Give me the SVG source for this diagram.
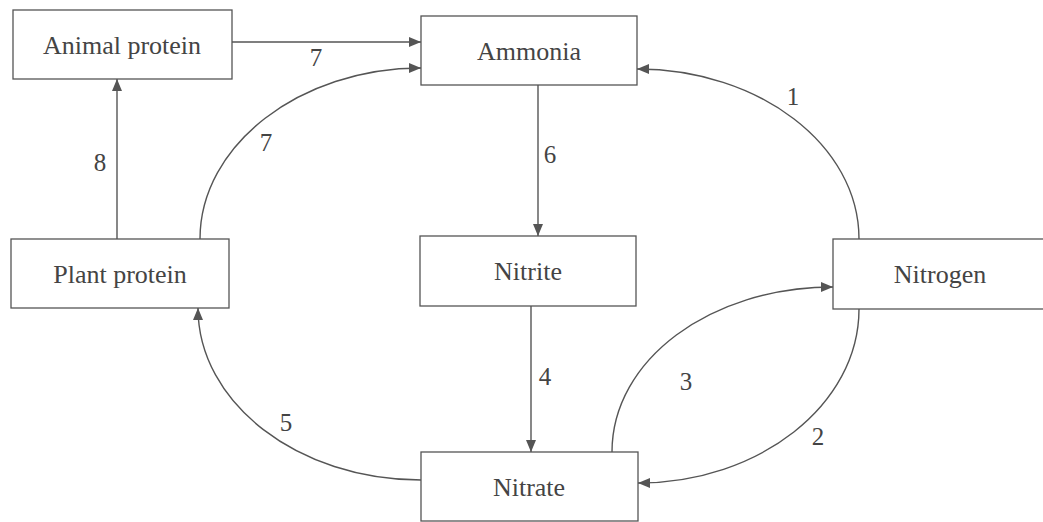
<svg xmlns="http://www.w3.org/2000/svg" width="1043" height="522" viewBox="0 0 1043 522">
<defs>
<marker id="ah" viewBox="0 0 12 10" refX="12" refY="5" markerWidth="12" markerHeight="10" markerUnits="userSpaceOnUse" orient="auto">
<path d="M0,0 L12,5 L0,10 Z" fill="#555"/>
</marker>
<style>
.box{fill:#fff;stroke:#555;stroke-width:1.3}
.c{fill:none;stroke:#555;stroke-width:1.4;marker-end:url(#ah)}
</style>
</defs>
<rect width="1043" height="522" fill="#fff"/>
<g id="connectors">
<path class="c" d="M232,42 L421,42"/>
<path class="c" d="M200,239 C200,145 300,68 421,68"/>
<path class="c" d="M117,239 L117,79"/>
<path class="c" d="M538,85 L538,236"/>
<path class="c" d="M531,306 L531,452"/>
<path class="c" d="M859,239 C859,145 759,69 637,69"/>
<path class="c" d="M859,309 C859,405 759,483 638,483"/>
<path class="c" d="M612,452 C612,360 710,287 833,287"/>
<path class="c" d="M421,480 C298,480 198,403 198,308"/>
<text x="316" y="66" style="font-family:'Liberation Serif',serif;font-size:25px;fill:#444;text-anchor:middle">7</text>
<text x="266" y="151" style="font-family:'Liberation Serif',serif;font-size:25px;fill:#444;text-anchor:middle">7</text>
<text x="100" y="171" style="font-family:'Liberation Serif',serif;font-size:25px;fill:#444;text-anchor:middle">8</text>
<text x="550" y="163" style="font-family:'Liberation Serif',serif;font-size:25px;fill:#444;text-anchor:middle">6</text>
<text x="545" y="385" style="font-family:'Liberation Serif',serif;font-size:25px;fill:#444;text-anchor:middle">4</text>
<text x="793" y="105" style="font-family:'Liberation Serif',serif;font-size:25px;fill:#444;text-anchor:middle">1</text>
<text x="686" y="390" style="font-family:'Liberation Serif',serif;font-size:25px;fill:#444;text-anchor:middle">3</text>
<text x="286" y="431" style="font-family:'Liberation Serif',serif;font-size:25px;fill:#444;text-anchor:middle">5</text>
<text x="818" y="445" style="font-family:'Liberation Serif',serif;font-size:25px;fill:#444;text-anchor:middle">2</text>
</g>
<g id="animal-protein">
<rect class="box" x="13" y="10" width="219" height="69"/>
<text x="122" y="54" style="font-family:'Liberation Serif',serif;font-size:26px;fill:#444;text-anchor:middle">Animal protein</text>
</g>
<g id="ammonia">
<rect class="box" x="421" y="16" width="216" height="69"/>
<text x="529" y="60" style="font-family:'Liberation Serif',serif;font-size:26px;fill:#444;text-anchor:middle">Ammonia</text>
</g>
<g id="plant-protein">
<rect class="box" x="11" y="239" width="218" height="69"/>
<text x="120" y="283" style="font-family:'Liberation Serif',serif;font-size:26px;fill:#444;text-anchor:middle">Plant protein</text>
</g>
<g id="nitrite">
<rect class="box" x="420" y="236" width="216" height="70"/>
<text x="528" y="280" style="font-family:'Liberation Serif',serif;font-size:26px;fill:#444;text-anchor:middle">Nitrite</text>
</g>
<g id="nitrogen">
<rect class="box" x="833" y="239" width="215" height="70"/>
<text x="940" y="283" style="font-family:'Liberation Serif',serif;font-size:26px;fill:#444;text-anchor:middle">Nitrogen</text>
</g>
<g id="nitrate">
<rect class="box" x="421" y="452" width="217" height="69"/>
<text x="529" y="496" style="font-family:'Liberation Serif',serif;font-size:26px;fill:#444;text-anchor:middle">Nitrate</text>
</g>
</svg>
